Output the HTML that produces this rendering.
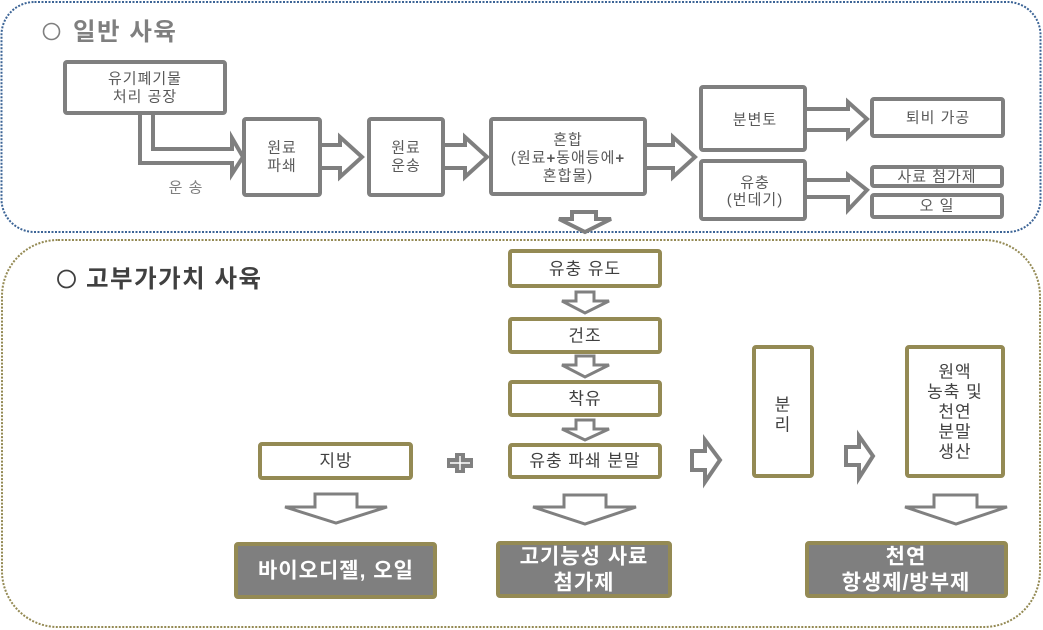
<!DOCTYPE html>
<html><head><meta charset="utf-8"><style>
html,body{margin:0;padding:0;background:#fff;}
svg{display:block;}
text{font-family:"Liberation Sans","Noto Sans CJK KR",sans-serif;}
</style></head><body>
<svg width="1043" height="630" viewBox="0 0 1043 630" xmlns="http://www.w3.org/2000/svg">
<!-- section borders -->
<rect x="1.5" y="2" width="1039" height="230" rx="33" ry="33" fill="none" stroke="#3c6496" stroke-width="2" stroke-dasharray="2 1.5"/>
<rect x="2" y="240" width="1038" height="387" rx="56" ry="56" fill="none" stroke="#948a54" stroke-width="2" stroke-dasharray="2 1.5"/>

<!-- titles -->
<circle cx="51.5" cy="31.5" r="8" fill="none" stroke="#7f7f7f" stroke-width="1.6"/>
<text x="73" y="40" font-size="24.5" font-weight="bold" fill="#7f7f7f" letter-spacing="1.5">일반 사육</text>
<circle cx="66.5" cy="279" r="8.5" fill="none" stroke="#404040" stroke-width="1.8"/>
<text x="86" y="287" font-size="24.5" font-weight="bold" fill="#404040" letter-spacing="1.5">고부가가치 사육</text>

<!-- top arrows (drawn before boxes) -->
<g fill="#fff" stroke="#7f7f7f" stroke-width="4" stroke-linejoin="miter">
<polygon points="140,110 140,163 232,163 232,174 243,157 232,138 232,149 153,149 153,110"/>
<polygon points="318,145 340,145 340,137 362,157 340,177 340,168 318,168"/>
<polygon points="441,145 465,145 465,137 487,157 465,177 465,168 441,168"/>
<polygon points="643,145 673,145 673,137 695,157 673,177 673,168 643,168"/>
<polygon points="803,109 848,109 848,102 867,119 848,137 848,130 803,130"/>
<polygon points="803,180 848,180 848,175 867,190 848,210 848,197 803,197"/>
<polygon points="572,212 596,212 596,219 611,219 585,232 559,219 572,219"/>
</g>

<!-- top boxes -->
<g fill="#fff" stroke="#7f7f7f" stroke-width="4">
<rect x="65" y="62" width="160" height="51" rx="2"/>
<rect x="244" y="119" width="76" height="76" rx="2"/>
<rect x="369" y="119" width="74" height="76" rx="2"/>
<rect x="491" y="119" width="154" height="75" rx="2"/>
<rect x="701" y="87" width="104" height="63" rx="2"/>
<rect x="701" y="161" width="104" height="58" rx="2"/>
<rect x="872" y="99" width="131" height="37" rx="2"/>
<rect x="872" y="167" width="130" height="19" rx="2"/>
<rect x="872" y="195" width="130" height="22" rx="2"/>
</g>

<g font-size="15" fill="#595959" text-anchor="middle" dominant-baseline="central" letter-spacing="1">
<text x="145" y="79">유기폐기물</text>
<text x="145" y="97">처리 공장</text>
<text x="282" y="148">원료</text>
<text x="282" y="166">파쇄</text>
<text x="406" y="148">원료</text>
<text x="406" y="166">운송</text>
<text x="568" y="140">혼합</text>
<text x="568" y="158">(원료<tspan font-weight="bold">+</tspan>동애등에<tspan font-weight="bold">+</tspan></text>
<text x="568" y="176">혼합물)</text>
<text x="755" y="120">분변토</text>
<text x="755" y="183">유충</text>
<text x="755" y="200">(번데기)</text>
<text x="938" y="118">퇴비 가공</text>
<text x="937" y="177">사료 첨가제</text>
<text x="937" y="206">오 일</text>
<text x="186" y="188" fill="#7f7f7f">운 송</text>
</g>

<!-- bottom arrows -->
<g fill="#fff" stroke="#808080" stroke-width="3" stroke-linejoin="miter">
<polygon points="576,292 594,292 594,301 609,301 585,313 562,301 576,301"/>
<polygon points="576,356 594,356 594,365 609,365 585,377 562,365 576,365"/>
<polygon points="576,420 594,420 594,429 609,429 585,440 562,429 576,429"/>
<polygon points="315,494 357,494 357,507 387,507 336,523 285,507 315,507"/>
<polygon points="564,495 606,495 606,507 636,507 585,524 533,507 564,507"/>
<polygon points="934,495 977,495 977,507 1007,507 956,524 905,507 934,507"/>
</g>
<g fill="#fff" stroke="#808080" stroke-width="4" stroke-linejoin="miter">
<polygon points="692,451 705,451 705,440 720,460 705,482 705,470 692,470"/>
<polygon points="846,447 859,447 859,436 873,456 859,478 859,465 846,465"/>
</g>

<!-- plus sign -->
<polygon points="455,453 465,453 465,458 473,458 473,468 465,468 465,473 455,473 455,468 447,468 447,458 455,458" fill="#808080"/>
<g stroke="#fff" stroke-width="1.5">
<line x1="460" y1="456" x2="460" y2="470"/>
<line x1="450" y1="463" x2="470" y2="463"/>
</g>

<!-- bottom boxes -->
<g fill="#fff" stroke="#948a54" stroke-width="4">
<rect x="510" y="251" width="150" height="35" rx="2"/>
<rect x="510" y="319" width="150" height="33" rx="2"/>
<rect x="510" y="382" width="150" height="33" rx="2"/>
<rect x="510" y="445" width="150" height="32" rx="2"/>
<rect x="260" y="444" width="151" height="34" rx="2"/>
<rect x="754" y="347" width="58" height="129" rx="2"/>
<rect x="907" y="347" width="96" height="129" rx="2"/>
</g>
<g fill="#7f7f7f" stroke="#948a54" stroke-width="4">
<rect x="236" y="544" width="199" height="53" rx="2"/>
<rect x="498" y="543" width="172" height="53" rx="2"/>
<rect x="807" y="543" width="199" height="53" rx="2"/>
</g>

<g font-size="17" fill="#404040" text-anchor="middle" dominant-baseline="central" letter-spacing="1">
<text x="585" y="269">유충 유도</text>
<text x="585" y="336">건조</text>
<text x="585" y="399">착유</text>
<text x="585" y="461">유충 파쇄 분말</text>
<text x="336" y="461">지방</text>
<text x="783" y="405">분</text>
<text x="783" y="425">리</text>
<text x="955" y="372">원액</text>
<text x="955" y="392">농축 및</text>
<text x="955" y="412">천연</text>
<text x="955" y="432">분말</text>
<text x="955" y="452">생산</text>
</g>

<g font-size="21" font-weight="bold" fill="#fff" text-anchor="middle" dominant-baseline="central" letter-spacing="1">
<text x="336" y="571">바이오디젤, 오일</text>
<text x="584" y="557">고기능성 사료</text>
<text x="584" y="583">첨가제</text>
<text x="906" y="557">천연</text>
<text x="906" y="583">항생제/방부제</text>
</g>
</svg>
</body></html>
